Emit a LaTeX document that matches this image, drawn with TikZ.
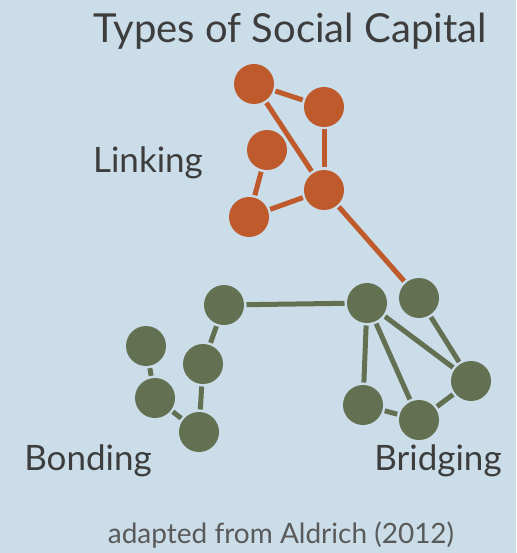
\documentclass[tikz,border=0pt]{standalone}
\usepackage{fontspec}
\setmainfont{Lato}
\usepackage{tikz}
\definecolor{bgblue}{HTML}{CADDE8}
\definecolor{linkcol}{HTML}{BF5A2C}
\definecolor{bondcol}{HTML}{647052}
\definecolor{txtcol}{HTML}{3D3D3D}

\begin{document}
\begin{tikzpicture}[x=1pt,y=-1pt,line width=5pt]
		\tikzstyle{linknode}=[circle,fill=linkcol,inner sep=0pt,minimum size=40pt]
		\tikzstyle{bondnode}=[circle,fill=bondcol,inner sep=0pt,minimum size=40pt]
		\tikzstyle{label}=[text=txtcol,inner sep=0pt]

		\fill[bgblue] (0,0) rectangle (516,553);
		\useasboundingbox (0,0) rectangle (516,553);

		% linking
		\node[linknode] (l0) at (254,84)  {};
		\node[linknode] (l1) at (324,107) {};
		\node[linknode] (l2) at (267,150) {};
		\node[linknode] (l3) at (324,190) {};
		\node[linknode] (l4) at (249,217) {};

		% bonding
		\node[bondnode] (b0) at (224,305) {};
		\node[bondnode] (b1) at (146,346) {};
		\node[bondnode] (b2) at (203,364) {};
		\node[bondnode] (b3) at (155,398) {};
		\node[bondnode] (b4) at (199,432) {};

		% bridging
		\node[bondnode] (r0) at (367,303) {};
		\node[bondnode] (r1) at (419,298) {};
		\node[bondnode] (r2) at (471,381) {};
		\node[bondnode] (r3) at (363,405) {};
		\node[bondnode] (r4) at (419,420) {};

		\path[draw=linkcol]
		(l0) edge (l1)
			edge (l3)
		(l1) edge (l3)
		(l2) edge (l4)
		(l4) edge (l3)
		(l3) edge (r1);
		\path[draw=bondcol]
		(b0) edge (r0)
			edge (b2)
		(b2) edge (b4)
		(b1) edge (b3)
		(b3) edge (b4)
		(r0) edge (r3)
			edge (r4)
			edge (r2)
		(r1) edge (r2)
		(r2) edge (r4)
		(r3) edge (r4);

		\node[label,font=\fontsize{40}{40}\selectfont] (title) at (290,31) {Types of Social Capital};
		\node[label,font=\fontsize{35}{35}\selectfont] (tlink) at (148,163) {Linking};
		\node[label,font=\fontsize{35}{35}\selectfont] (tbond) at (88,461) {Bonding};
		\node[label,font=\fontsize{35}{35}\selectfont] (tbrid) at (438,461) {Bridging};
		\node[label,font=\fontsize{28}{28}\selectfont,text=txtcol!85] (tsrc) at (281,535) {adapted from Aldrich (2012)};
\end{tikzpicture}
\end{document}
